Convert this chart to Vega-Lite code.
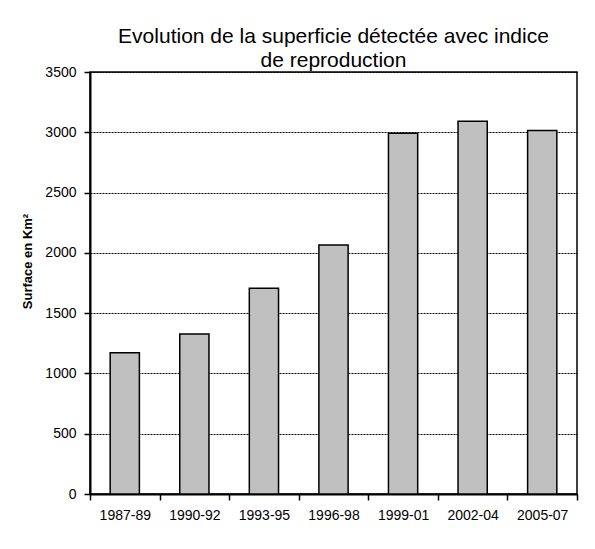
{
  "$schema": "https://vega.github.io/schema/vega-lite/v6.json",
  "width": 487,
  "height": 422,
  "autosize": {"type": "none"},
  "padding": {"left": 90, "top": 72, "right": 18, "bottom": 55},
  "background": "white",
  "title": {
    "text": ["Evolution de la superficie détectée avec indice", "de reproduction"],
    "font": "Liberation Sans",
    "fontSize": 21,
    "fontWeight": "normal",
    "lineHeight": 24,
    "offset": -6,
    "color": "black",
    "anchor": "middle"
  },
  "data": {
    "values": [
      {"period": "1987-89", "surface": 1171},
      {"period": "1990-92", "surface": 1328},
      {"period": "1993-95", "surface": 1706},
      {"period": "1996-98", "surface": 2065},
      {"period": "1999-01", "surface": 2992},
      {"period": "2002-04", "surface": 3092},
      {"period": "2005-07", "surface": 3015}
    ]
  },
  "mark": {"type": "bar", "fill": "#c0c0c0", "stroke": "black", "strokeWidth": 1.5, "width": {"band": 0.42}},
  "encoding": {
    "x": {
      "field": "period",
      "type": "nominal",
      "sort": null,
      "scale": {"paddingInner": 0, "paddingOuter": 0},
      "axis": {
        "title": null,
        "labelAngle": 0,
        "tickBand": "extent",
        "tickSize": 6,
        "tickColor": "black",
        "tickWidth": 1.5,
        "labelPadding": 8,
        "labelFont": "Liberation Sans",
        "labelFontSize": 14,
        "labelColor": "black",
        "domainColor": "black",
        "domainWidth": 2,
        "grid": false
      }
    },
    "y": {
      "field": "surface",
      "type": "quantitative",
      "scale": {"domain": [0, 3500], "nice": false},
      "axis": {
        "title": "Surface en Km²",
        "titleFont": "Liberation Sans",
        "titleFontSize": 13,
        "titleFontWeight": "bold",
        "titleColor": "black",
        "titlePadding": 10,
        "titleY": 189,
        "format": "d",
        "values": [0, 500, 1000, 1500, 2000, 2500, 3000, 3500],
        "tickSize": 6,
        "tickColor": "black",
        "tickWidth": 1.5,
        "labelPadding": 8,
        "labelFont": "Liberation Sans",
        "labelFontSize": 14,
        "labelColor": "black",
        "domainColor": "black",
        "domainWidth": 2,
        "grid": true,
        "gridColor": "black",
        "gridDash": [2, 1],
        "gridWidth": 1,
        "gridOpacity": 1
      }
    }
  },
  "config": {
    "view": {"stroke": "black", "strokeWidth": 1.5}
  }
}
